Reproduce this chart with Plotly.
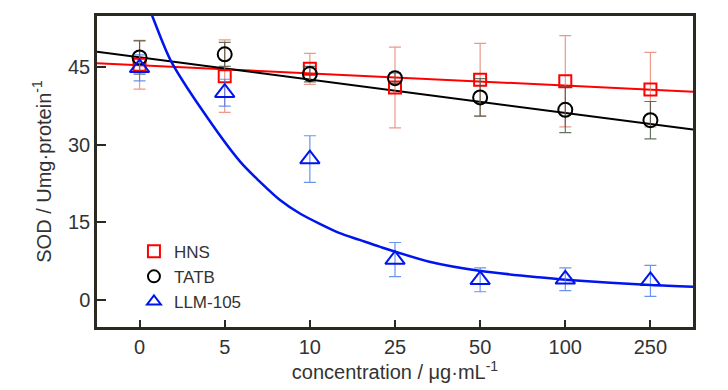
import plotly.graph_objects as go

# ---- data ----
categories = ["0", "5", "10", "25", "50", "100", "250"]
positions = [0, 1, 2, 3, 4, 5, 6]

hns = [45.4, 43.2, 44.6, 41.0, 42.5, 42.2, 40.6]
hns_err = [4.7, 7.0, 3.0, 7.8, 7.0, 8.8, 7.2]

tatb = [46.8, 47.4, 43.6, 42.8, 39.1, 36.7, 34.7]
tatb_err = [3.2, 2.3, 1.5, 1.0, 3.6, 4.4, 3.6]

llm = [44.8, 40.0, 27.2, 7.8, 3.9, 4.0, 3.7]
llm_err = [2.5, 2.6, 4.5, 3.3, 2.3, 2.2, 3.0]

# fitted trend lines (in category-index space)
hns_fit_x = [-0.5, 6.5]
hns_fit_y = [45.7, 40.2]
tatb_fit_x = [-0.5, 6.5]
tatb_fit_y = [47.9, 32.9]
llm_fit_x = [0.0, 0.149, 0.363, 0.733, 1.181, 1.415, 1.649, 1.883, 2.117, 2.351,
             2.585, 2.819, 3.404, 3.988, 4.69, 5.04, 6.0, 6.5]
llm_fit_y = [61.0, 54.8, 46.3, 36.7, 26.7, 22.8, 19.3, 16.7, 14.7, 12.9,
             11.6, 10.3, 7.4, 5.66, 4.38, 3.86, 2.9, 2.57]

y_ticks = [0, 15, 30, 45]

FONT = "Liberation Sans, Arial, sans-serif"
TXT = "#333333"
AX = "#2b2a22"

fig = go.Figure()

# fit lines
fig.add_trace(go.Scatter(x=hns_fit_x, y=hns_fit_y, mode="lines",
                         line=dict(color="#ff0000", width=2), showlegend=False, hoverinfo="skip"))
fig.add_trace(go.Scatter(x=tatb_fit_x, y=tatb_fit_y, mode="lines",
                         line=dict(color="#000000", width=2), showlegend=False, hoverinfo="skip"))
fig.add_trace(go.Scatter(x=llm_fit_x, y=llm_fit_y, mode="lines", line_shape="spline",
                         line=dict(color="#0015ee", width=2.5, smoothing=0.8),
                         showlegend=False, hoverinfo="skip"))

# data points
fig.add_trace(go.Scatter(
    x=positions, y=hns, mode="markers", name="HNS",
    marker=dict(symbol="square-open", size=12, color="#ff0000", line=dict(width=2)),
    error_y=dict(type="data", array=hns_err, color="rgba(225,120,100,0.75)", thickness=1.2, width=6)))
fig.add_trace(go.Scatter(
    x=positions, y=tatb, mode="markers", name="TATB",
    marker=dict(symbol="circle-open", size=14, color="#000000", line=dict(width=2)),
    error_y=dict(type="data", array=tatb_err, color="rgba(60,80,60,0.8)", thickness=1.2, width=6)))
fig.add_trace(go.Scatter(
    x=positions, y=llm, mode="markers", name="LLM-105",
    marker=dict(symbol="triangle-up-open", size=17, color="#0015ee", line=dict(width=2)),
    error_y=dict(type="data", array=llm_err, color="rgba(70,120,240,0.8)", thickness=1.2, width=6)))

# page body has an 8px default margin, so the figure is 8px smaller and shifted
fig.update_layout(
    width=720, height=382,
    margin=dict(l=89, r=35, t=8, b=63, autoexpand=False),
    paper_bgcolor="white", plot_bgcolor="white",
    font=dict(family=FONT, size=20, color=TXT),
    legend=dict(x=0.062, y=0.30, xanchor="left", yanchor="top",
                bgcolor="rgba(0,0,0,0)", font=dict(size=17, color=TXT),
                tracegroupgap=0, itemsizing="constant"),
    xaxis=dict(range=[-0.5, 6.5], tickmode="array", tickvals=positions, ticktext=categories,
               ticks="inside", ticklen=7, tickwidth=2, tickcolor=AX,
               showline=True, linecolor=AX, linewidth=2.5, mirror=True,
               showgrid=False, zeroline=False, automargin=False,
               title=dict(text="concentration / μg·mL<sup>-1</sup>", standoff=6,
                          font=dict(size=20, color=TXT))),
    yaxis=dict(range=[-5.2, 54.8], tickmode="array", tickvals=y_ticks,
               ticks="inside", ticklen=9, tickwidth=2, tickcolor=AX,
               showline=True, linecolor=AX, linewidth=2.5, mirror=True,
               showgrid=False, zeroline=False, automargin=False,
               title=dict(text="SOD / Umg·protein<sup>-1</sup>", standoff=12,
                          font=dict(size=20, color=TXT))),
)

fig.write_html("out.html")
